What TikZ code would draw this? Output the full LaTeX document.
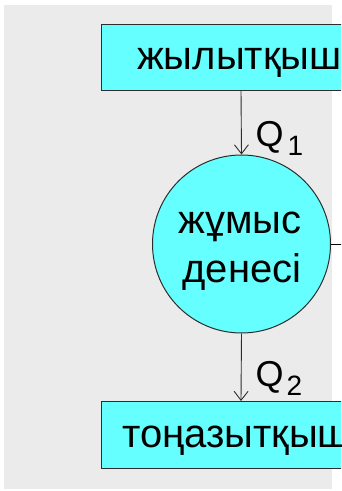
\documentclass[tikz,border=0pt]{standalone}
\usepackage{fontspec}
\setmainfont{Liberation Sans}
\usetikzlibrary{arrows.meta}
\definecolor{bgray}{RGB}{235,235,235}
\definecolor{cyanfill}{RGB}{102,255,255}
\definecolor{edgegray}{RGB}{45,45,45}
\tikzset{
  reservoir/.style={draw=edgegray, line width=1pt, fill=cyanfill},
  bigtext/.style={inner sep=0pt, font=\fontsize{40}{48}\selectfont},
  qtext/.style={inner sep=0pt, anchor=base west, font=\fontsize{36}{42}\selectfont},
  flow/.style={draw=edgegray, line width=0.9pt, -{Straight Barb[length=9pt,width=14pt,line width=0.9pt]}},
  plain/.style={draw=black, line width=0.9pt},
}
\begin{document}
\begin{tikzpicture}[x=1pt,y=-1pt]
  \useasboundingbox (0,0) rectangle (341,491);
  \clip (0,0) rectangle (341,491);
  \fill[bgray] (4,5) rectangle (332,489);
  % reservoirs
  \draw[reservoir] (101,24) rectangle (372,90);
  \draw[reservoir] (101,401) rectangle (372,468);
  \coordinate (hotin) at (241,90);
  \coordinate (coldin) at (241,401);
  \node[bigtext, anchor=base west] (hot) at (137,69) {жылытқыш};
  \node[bigtext, anchor=base west] (cold) at (122,447) {тоңазытқыш};
  % working body
  \node[circle, draw=edgegray, line width=1pt, fill=cyanfill, minimum size=178pt, inner sep=0pt] (body) at (241.5,244) {};
  \node[bigtext, anchor=base] (bodyt1) at (240,233) {жұмыс};
  \node[bigtext, anchor=base] (bodyt2) at (242,282) {денесі};
  % flows
  \draw[flow] (hotin) -- (body.north);
  \draw[flow] (body.south) -- (coldin);
  \coordinate (workout) at (350,244);
  \draw[plain] (body.east) -- (workout);
  % labels
  \node[qtext] (q1) at (255.5,146.5) {Q\kern4pt\raisebox{-8.5pt}{\fontsize{28}{32}\selectfont 1}};
  \node[qtext] (q2) at (255.5,386.5) {Q\kern3pt\raisebox{-9pt}{\fontsize{28}{32}\selectfont 2}};
\end{tikzpicture}
\end{document}
